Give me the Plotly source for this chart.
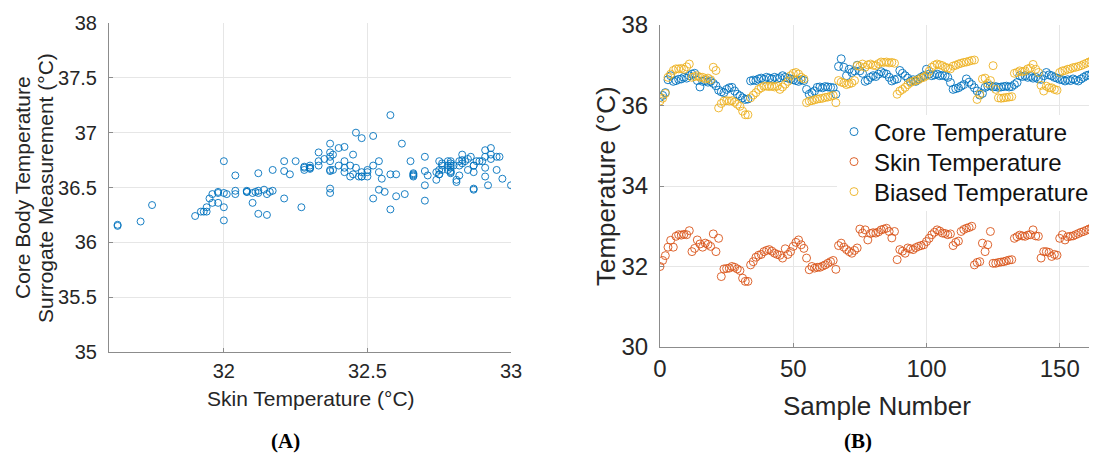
import plotly.graph_objects as go

# ---------------- data ----------------
sample_number = list(range(165))

core_temperature = [
    36.20, 36.25, 36.32, 36.64, 36.74, 36.60, 36.62, 36.65, 36.66, 36.70,
    36.68, 36.74, 36.78, 36.80, 36.62, 36.46, 36.60, 36.62, 36.58, 36.60,
    36.55, 36.49, 36.38, 36.34, 36.32, 36.40, 36.44, 36.45, 36.36, 36.28,
    36.24, 36.19, 36.15, 36.16, 36.61, 36.63, 36.62, 36.66, 36.68, 36.65,
    36.70, 36.68, 36.66, 36.70, 36.67, 36.69, 36.74, 36.70, 36.68, 36.66,
    36.64, 36.62, 36.60, 36.64, 36.62, 36.40, 36.28, 36.32, 36.36, 36.45,
    36.46, 36.44, 36.47, 36.46, 36.45, 36.44, 36.28, 36.97, 37.16, 36.95,
    36.74, 36.90, 36.82, 36.86, 37.00, 36.86, 36.80, 36.60, 36.63, 36.70,
    36.74, 36.72, 36.78, 36.84, 36.80, 36.78, 36.70, 36.61, 36.64, 36.66,
    36.87, 36.80, 36.74, 36.68, 36.60, 36.64, 36.60, 36.66, 36.70, 36.74,
    36.90, 36.78, 36.74, 36.76, 36.78, 36.74, 36.75, 36.74, 36.70, 36.57,
    36.40, 36.42, 36.44, 36.48, 36.52, 36.66, 36.58, 36.52, 36.44, 36.36,
    36.26, 36.30, 36.45, 36.48, 36.49, 36.46, 36.47, 36.45, 36.46, 36.47,
    36.48, 36.46, 36.47, 36.52, 36.57, 36.74, 36.72, 36.74, 36.70, 36.72,
    36.68, 36.70, 36.66, 36.65, 36.74, 36.82, 36.76, 36.74, 36.70, 36.68,
    36.65, 36.64, 36.61, 36.64, 36.62, 36.66, 36.63, 36.61, 36.66, 36.70,
    36.74, 36.76, 36.78, 36.76, 36.74,
]

skin_temperature = [
    32.00, 32.15, 32.27, 32.48, 32.65, 32.48, 32.75, 32.79, 32.78, 32.80,
    32.79, 32.89, 32.37, 32.45, 32.66, 32.56, 32.48, 32.58, 32.55, 32.50,
    32.81, 32.37, 32.70, 31.75, 31.94, 31.95, 31.96, 32.00, 31.98, 31.94,
    31.90, 31.71, 31.63, 31.63, 32.04, 32.12, 32.23, 32.28, 32.30, 32.37,
    32.40, 32.42, 32.38, 32.33, 32.30, 32.28, 32.21, 32.44, 32.30, 32.37,
    32.50, 32.60, 32.66, 32.54, 32.45, 32.21, 31.92, 32.00, 31.96, 31.98,
    31.98, 32.01, 32.04, 32.08, 32.12, 32.15, 31.93, 32.52, 32.58, 32.48,
    32.42, 32.37, 32.33, 32.40, 32.46, 32.93, 32.83, 32.91, 32.66, 32.82,
    32.84, 32.83, 32.86, 32.91, 32.93, 32.95, 32.87, 32.71, 32.87, 32.17,
    32.42, 32.38, 32.33, 32.46, 32.44, 32.42, 32.47, 32.50, 32.52, 32.54,
    32.62, 32.70, 32.79, 32.85, 32.91, 32.88, 32.83, 32.82, 32.79, 32.81,
    32.52, 32.60, 32.63, 32.87, 32.92, 32.95, 32.97, 33.00, 32.04, 32.10,
    32.12, 32.58, 32.37, 32.54, 32.87, 32.08, 32.08, 32.10, 32.11, 32.12,
    32.14, 32.16, 32.17, 32.70, 32.74, 32.78, 32.76, 32.75, 32.78, 32.79,
    32.91, 32.76, 32.75, 32.21, 32.37, 32.37, 32.35, 32.25, 32.30, 32.28,
    32.70, 32.79, 32.66, 32.74, 32.75, 32.76, 32.79, 32.82, 32.85, 32.87,
    32.90, 32.93, 32.96, 33.02, 32.00,
]

biased_temperature = [
    36.11, 36.18, 36.30, 36.70, 36.78, 36.87, 36.91, 36.91, 36.92, 36.90,
    36.96, 37.03, 36.70, 36.72, 36.74, 36.70, 36.70, 36.66, 36.68, 36.64,
    36.95, 36.87, 35.94, 36.05, 36.11, 36.12, 36.11, 36.12, 36.08, 36.03,
    35.98, 35.86, 35.77, 35.77, 36.19, 36.26, 36.32, 36.40, 36.44, 36.48,
    36.48, 36.47, 36.48, 36.46, 36.48, 36.40, 36.46, 36.53, 36.60, 36.74,
    36.80, 36.82, 36.78, 36.70, 36.66, 36.07, 36.11, 36.12, 36.14, 36.16,
    36.17, 36.18, 36.20, 36.21, 36.23, 36.25, 36.07, 36.62, 36.58, 36.56,
    36.52, 36.54, 36.56, 36.62, 36.99, 36.97, 37.03, 36.95, 37.01, 37.03,
    37.00, 36.99, 37.04, 37.08, 37.07, 37.08, 37.06, 37.07, 37.05, 36.28,
    36.36, 36.40, 36.45, 36.52, 36.57, 36.60, 36.62, 36.64, 36.68, 36.70,
    36.74, 36.85, 36.95, 37.00, 37.03, 37.01, 36.99, 36.95, 36.93, 36.91,
    36.98, 37.00, 37.03, 37.05, 37.07, 37.08, 37.10, 37.12, 37.13, 36.15,
    36.28, 36.66, 36.68, 36.55, 36.62, 36.99, 36.40, 36.19, 36.18, 36.19,
    36.20, 36.21, 36.22, 36.80, 36.82, 36.86, 36.84, 36.86, 36.91, 36.93,
    37.02, 36.90, 36.82, 36.50, 36.36, 36.48, 36.44, 36.44, 36.40, 36.38,
    36.82, 36.86, 36.87, 36.90, 36.91, 36.94, 36.95, 36.97, 36.99, 37.02,
    37.05, 37.08, 37.11, 37.15, 36.10,
]

series_names = ["Core Temperature", "Skin Temperature", "Biased Temperature"]

a_x_ticks = [32, 32.5, 33]
a_y_ticks = [35, 35.5, 36, 36.5, 37, 37.5, 38]
b_x_ticks = [0, 50, 100, 150]
b_y_ticks = [30, 32, 34, 36, 38]

# ---------------- styling ----------------
# The page body has an 8px default margin, so the figure is laid out in
# page coordinates and shifted by that offset.
OFF = 8
W, H = 1097 - OFF, 461 - 2 * OFF
BLUE, ORANGE, YELLOW = "#0072BD", "#D95319", "#EDB120"
TXT = "#262626"
GRID = "#e6e6e6"
AXL = "#8c8c8c"
SANS = "Liberation Sans, Arial, sans-serif"
SERIF = "Liberation Serif, DejaVu Serif, serif"


def px(x):
    return (x - OFF) / W


def py(y):
    return 1 - (y - OFF) / H


fig = go.Figure()

# Panel A: core (surrogate) vs skin temperature
fig.add_trace(go.Scatter(
    x=skin_temperature, y=core_temperature, mode="markers",
    marker=dict(symbol="circle-open", size=7, color=BLUE, line=dict(width=0.9, color=BLUE)),
    xaxis="x", yaxis="y", showlegend=False, hoverinfo="skip"))

# Panel B: time series (one legend per entry so rows can be placed exactly)
legend_ids = ["legend", "legend2", "legend3"]
for name, vals, col, lg in zip(series_names,
                               [core_temperature, skin_temperature, biased_temperature],
                               [BLUE, ORANGE, YELLOW], legend_ids):
    fig.add_trace(go.Scatter(
        x=sample_number, y=vals, mode="markers", name=name, legend=lg,
        marker=dict(symbol="circle-open", size=8, color=col, line=dict(width=0.9, color=col)),
        xaxis="x2", yaxis="y2"))

common_axis = dict(showgrid=True, gridcolor=GRID, gridwidth=1, zeroline=False,
                   showline=True, linecolor=AXL, linewidth=1, ticks="inside",
                   ticklen=4, tickcolor=AXL, mirror=False, automargin=False)

legend_rows = [132, 162, 192]
legend_cfg = {}
for lg, row in zip(legend_ids, legend_rows):
    legend_cfg[lg] = dict(x=px(834), y=py(row), xanchor="left", yanchor="middle",
                          bgcolor="rgba(0,0,0,0)", borderwidth=0,
                          font=dict(size=24, color="#111111", family=SANS),
                          itemwidth=30)

fig.update_layout(
    template="none",
    width=W, height=H,
    margin=dict(l=0, r=0, t=0, b=0, pad=0, autoexpand=False),
    paper_bgcolor="white", plot_bgcolor="white",
    font=dict(family=SANS, color=TXT),
    xaxis=dict(domain=[px(109), px(511)], range=[31.6, 33], tickvals=a_x_ticks,
               ticktext=[str(v) for v in a_x_ticks], anchor="y",
               tickfont=dict(size=20, color=TXT), ticklabelstandoff=1, **common_axis),
    yaxis=dict(domain=[py(352), py(23)], range=[35, 38], tickvals=a_y_ticks,
               ticktext=[f"{v:g}" for v in a_y_ticks], anchor="x",
               tickfont=dict(size=20, color=TXT), ticklabelstandoff=7, **common_axis),
    xaxis2=dict(domain=[px(660), 1.0], range=[0, 164], tickvals=b_x_ticks,
                ticktext=[str(v) for v in b_x_ticks], anchor="y2",
                tickfont=dict(size=24, color=TXT), ticklabelstandoff=0, **common_axis),
    yaxis2=dict(domain=[py(347), py(25)], range=[30, 38], tickvals=b_y_ticks,
                ticktext=[str(v) for v in b_y_ticks], anchor="x2",
                tickfont=dict(size=24, color=TXT), ticklabelstandoff=6, **common_axis),
    showlegend=True,
    # white legend box hiding the grid behind the legend entries
    shapes=[dict(type="rect", xref="paper", yref="paper", layer="above",
                 x0=px(837), x1=1.0, y0=py(211), y1=py(115),
                 fillcolor="white", line=dict(width=0))],
    **legend_cfg,
)

annotations = [
    dict(text="Skin Temperature (°C)", x=px(311), y=py(398), font=dict(size=21, color=TXT)),
    dict(text="Core Body Temperature", x=px(22), y=py(188), textangle=-90,
         font=dict(size=21, color=TXT)),
    dict(text="Surrogate Measurement (°C)", x=px(45), y=py(188), textangle=-90,
         font=dict(size=21, color=TXT)),
    dict(text="Temperature (°C)", x=px(606), y=py(186), textangle=-90,
         font=dict(size=26, color=TXT)),
    dict(text="Sample Number", x=px(877), y=py(406), font=dict(size=26, color=TXT)),
    dict(text="<b>(A)</b>", x=px(285), y=py(441),
         font=dict(size=21, color="#000000", family=SERIF)),
    dict(text="<b>(B)</b>", x=px(858), y=py(441),
         font=dict(size=21, color="#000000", family=SERIF)),
]
for a in annotations:
    a.update(xref="paper", yref="paper", showarrow=False, xanchor="center", yanchor="middle")
fig.update_layout(annotations=annotations)

fig.write_html("out.html")
